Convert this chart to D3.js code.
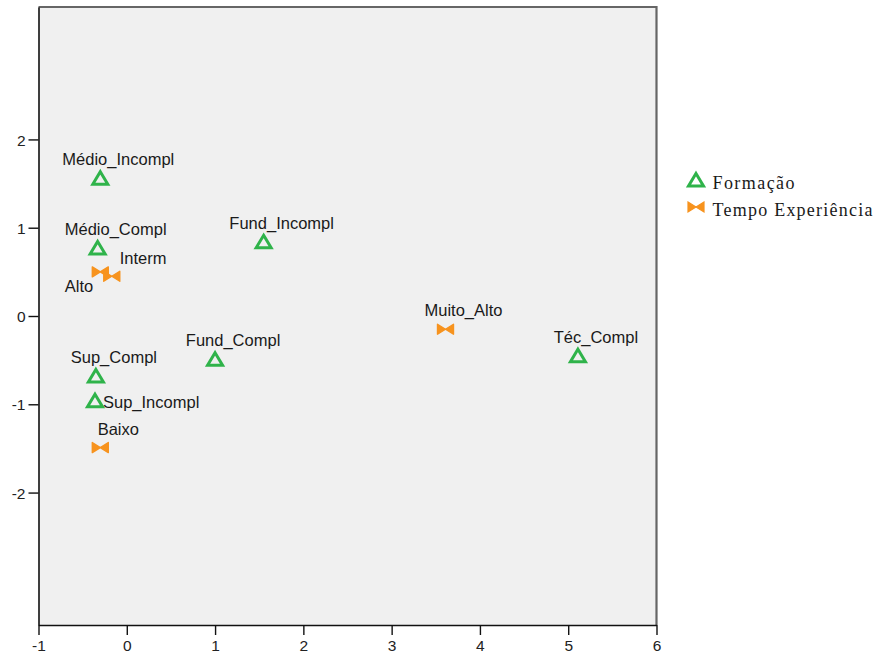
<!DOCTYPE html>
<html>
<head>
<meta charset="utf-8">
<script src="https://cdn.jsdelivr.net/npm/d3@7"></script>
<style>
  html, body { margin: 0; padding: 0; background: #ffffff; }
  svg { display: block; }
</style>
</head>
<body>
<svg id="chart" width="875" height="657"></svg>
<script>
// Category points: Formação
const formacaoLabels = ["Médio_Incompl", "Médio_Compl", "Fund_Incompl", "Fund_Compl", "Sup_Compl", "Sup_Incompl", "Téc_Compl"];
const formacaoDim1 = [-0.30, -0.33, 1.55, 1.00, -0.35, -0.36, 5.11];
const formacaoDim2 = [1.56, 0.77, 0.84, -0.49, -0.68, -0.96, -0.45];

// Category points: Tempo Experiência
const tempoLabels = ["Alto", "Interm", "Baixo", "Muito_Alto"];
const tempoDim1 = [-0.30, -0.17, -0.30, 3.61];
const tempoDim2 = [0.50, 0.45, -1.49, -0.15];

// Axis ticks
const xTicks = [-1, 0, 1, 2, 3, 4, 5, 6];
const yTicks = [-2, -1, 0, 1, 2];

// Legend entries
const legendNames = ["Formação", "Tempo Experiência"];

const GREEN = "#2fb34a";
const ORANGE = "#f7931e";

const svg = d3.select("#chart");

const x = d3.scaleLinear().domain([-1, 6]).range([38.5, 656.5]);
const y = d3.scaleLinear().domain([-3.5, 3.5]).range([625, 7]);

// plot background
svg.append("rect")
  .attr("x", x(-1)).attr("y", y(3.5))
  .attr("width", x(6) - x(-1)).attr("height", y(-3.5) - y(3.5))
  .attr("fill", "#f0f0f0");

// top and right frame
svg.append("path")
  .attr("d", `M${x(-1)},${y(3.5)}H${x(6)}V${y(-3.5)}`)
  .attr("fill", "none").attr("stroke", "#666").attr("stroke-width", 2.2);

const fontSans = "'Liberation Sans', Arial, sans-serif";

// axes
const xAxis = svg.append("g")
  .attr("transform", `translate(0,${y(-3.5)})`)
  .call(d3.axisBottom(x).tickValues(xTicks).tickSize(10).tickSizeOuter(0).tickPadding(5).tickFormat(d => String(d)));
const yAxis = svg.append("g")
  .attr("transform", `translate(${x(-1)},0)`)
  .call(d3.axisLeft(y).tickValues(yTicks).tickSize(10).tickSizeOuter(0).tickPadding(3).tickFormat(d => String(d)));

[xAxis, yAxis].forEach(g => {
  g.select(".domain").attr("stroke", "#111").attr("stroke-width", 1.6);
  g.selectAll(".tick line").attr("stroke", "#111").attr("stroke-width", 1.4);
  g.selectAll(".tick text")
    .attr("fill", "#222")
    .style("font-family", fontSans)
    .style("font-size", "15.5px");
});
yAxis.selectAll(".tick text").attr("dy", "0.36em");

// marker shapes
const triPath = "M0,-6.5L7.5,6L-7.5,6Z";
const bowPath = "M-8,-5L0,0L-8,5Z M8,-5L0,0L8,5Z";

// label placement per category (anchor, dx, dy from marker centre)
const labelPlace = {
  "Interm": ["start", 8, -12],
  "Alto": ["end", -7, 20],
  "Sup_Incompl": ["start", 8, 7]
};
const defaultPlace = ["middle", 18, -13];

function drawPoints(labels, d1, d2, shape, fill) {
  const g = svg.append("g");
  labels.forEach((name, i) => {
    const px = x(d1[i]), py = y(d2[i]);
    if (fill) {
      g.append("path").attr("d", shape)
        .attr("transform", `translate(${px},${py})`)
        .attr("fill", ORANGE).attr("stroke", ORANGE).attr("stroke-width", 1.4)
        .attr("stroke-linejoin", "round");
    } else {
      g.append("path").attr("d", shape)
        .attr("transform", `translate(${px},${py})`)
        .attr("fill", "none").attr("stroke", GREEN).attr("stroke-width", 3);
    }
    const p = labelPlace[name] || defaultPlace;
    g.append("text")
      .attr("x", px + p[1]).attr("y", py + p[2])
      .attr("text-anchor", p[0])
      .attr("fill", "#1a1a1a")
      .style("font-family", fontSans)
      .style("font-size", "16.5px")
      .text(name);
  });
}

drawPoints(formacaoLabels, formacaoDim1, formacaoDim2, triPath, false);
drawPoints(tempoLabels, tempoDim1, tempoDim2, bowPath, true);

// legend
const legend = svg.append("g");
const legendWidths = [82, 160];
legendNames.forEach((name, i) => {
  const ly = 180 + i * 27;
  if (i === 0) {
    legend.append("path").attr("d", triPath)
      .attr("transform", `translate(696,${ly})`)
      .attr("fill", "none").attr("stroke", GREEN).attr("stroke-width", 3);
  } else {
    legend.append("path").attr("d", bowPath)
      .attr("transform", `translate(696,${ly})`)
      .attr("fill", ORANGE).attr("stroke", ORANGE).attr("stroke-width", 1.2);
  }
  legend.append("text")
    .attr("x", 712.5).attr("y", ly + 9)
    .attr("textLength", legendWidths[i])
    .attr("lengthAdjust", "spacing")
    .attr("fill", "#1a1a1a")
    .style("font-family", "'Liberation Serif', 'Times New Roman', serif")
    .style("font-size", "18px")
    .text(name);
});
</script>
</body>
</html>
